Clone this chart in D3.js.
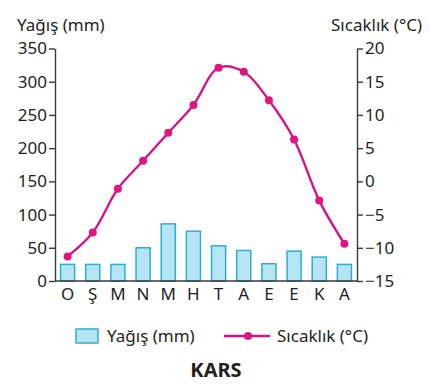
<!DOCTYPE html>
<meta charset="utf-8">
<style>
	body { margin: 0; background: #fff; }
	svg text { font-family: "Noto Sans", "Open Sans", sans-serif; fill: #231f20; }
	.axis path, .axis line { stroke: #3a3a3a; stroke-width: 1.4; }
	.axis text { font-size: 17px; }
</style>
<svg width="429" height="384" id="chart"></svg>
<script src="https://cdn.jsdelivr.net/npm/d3@7"></script>
<script>
var months = ["O", "Ş", "M", "N", "M", "H", "T", "A", "E", "E", "K", "A"];
var rain = [25, 25, 25, 50, 86, 75, 53, 46, 26, 45, 36, 25];
var temp = [-11.3, -7.7, -1.1, 3.1, 7.3, 11.5, 17.1, 16.5, 12.2, 6.3, -2.9, -9.4];
var rainTicks = [0, 50, 100, 150, 200, 250, 300, 350];
var tempTicks = [-15, -10, -5, 0, 5, 10, 15, 20];

var svg = d3.select("#chart");
var plotL = 55, plotR = 357, plotT = 48.5, plotB = 281;

var x = d3.scaleBand().domain(d3.range(months.length)).range([plotL, plotR]).paddingInner(0.44).paddingOuter(0.22);
var yRain = d3.scaleLinear().domain([0, 350]).range([plotB, plotT]);
var yTemp = d3.scaleLinear().domain([-15, 20]).range([plotB, plotT]);

// bars
svg.append("g").selectAll("rect")
	.data(rain)
	.join("rect")
	.attr("x", function(d, i) { return x(i); })
	.attr("y", function(d) { return yRain(d); })
	.attr("width", x.bandwidth())
	.attr("height", function(d) { return yRain(0) - yRain(d); })
	.attr("fill", "#b5e4f5")
	.attr("stroke", "#2fafcc")
	.attr("stroke-width", 1.5);

// axes
var minus = function(d) { return String(d).replace("-", "\u2212"); };
svg.append("g").attr("class", "axis")
	.attr("transform", "translate(" + plotL + ",0)")
	.call(d3.axisLeft(yRain).tickValues(rainTicks).tickSize(6).tickSizeOuter(0).tickPadding(2));
svg.append("g").attr("class", "axis")
	.attr("transform", "translate(" + plotR + ",0)")
	.call(d3.axisRight(yTemp).tickValues(tempTicks).tickSize(6).tickSizeOuter(0).tickPadding(2).tickFormat(minus));
svg.append("line")
	.attr("x1", plotL).attr("x2", plotR)
	.attr("y1", plotB).attr("y2", plotB)
	.attr("stroke", "#3a3a3a").attr("stroke-width", 1.4);

// month labels
svg.append("g").selectAll("text")
	.data(months)
	.join("text")
	.attr("x", function(d, i) { return x(i) + x.bandwidth() / 2; })
	.attr("y", 300)
	.attr("text-anchor", "middle")
	.attr("font-size", 17)
	.text(function(d) { return d; });

// temperature line
var line = d3.line()
	.curve(d3.curveCatmullRom.alpha(0.5))
	.x(function(d, i) { return x(i) + x.bandwidth() / 2; })
	.y(function(d) { return yTemp(d); });

svg.append("path")
	.datum(temp)
	.attr("d", line)
	.attr("fill", "none")
	.attr("stroke", "#d0168a")
	.attr("stroke-width", 2.4);

svg.append("g").selectAll("circle")
	.data(temp)
	.join("circle")
	.attr("cx", function(d, i) { return x(i) + x.bandwidth() / 2; })
	.attr("cy", function(d) { return yTemp(d); })
	.attr("r", 4)
	.attr("fill", "#e0157f");

// axis titles
svg.append("text").attr("x", 17).attr("y", 31).attr("font-size", 17).text("Yağış (mm)");
svg.append("text").attr("x", 422).attr("y", 31).attr("font-size", 17).attr("text-anchor", "end").text("Sıcaklık (°C)");

// legend
var lg = svg.append("g");
lg.append("rect").attr("x", 76).attr("y", 329).attr("width", 22).attr("height", 14)
	.attr("fill", "#b5e4f5").attr("stroke", "#2fafcc").attr("stroke-width", 1.5);
lg.append("text").attr("x", 107).attr("y", 342).attr("font-size", 17).text("Yağış (mm)");
lg.append("line").attr("x1", 224).attr("x2", 270).attr("y1", 336).attr("y2", 336)
	.attr("stroke", "#d0168a").attr("stroke-width", 2.4);
lg.append("circle").attr("cx", 248).attr("cy", 336).attr("r", 4).attr("fill", "#e0157f");
lg.append("text").attr("x", 277).attr("y", 342).attr("font-size", 17).text("Sıcaklık (°C)");

svg.append("text").attr("x", 216).attr("y", 377).attr("font-size", 20).attr("font-weight", "bold")
	.attr("text-anchor", "middle").text("KARS");
</script>
